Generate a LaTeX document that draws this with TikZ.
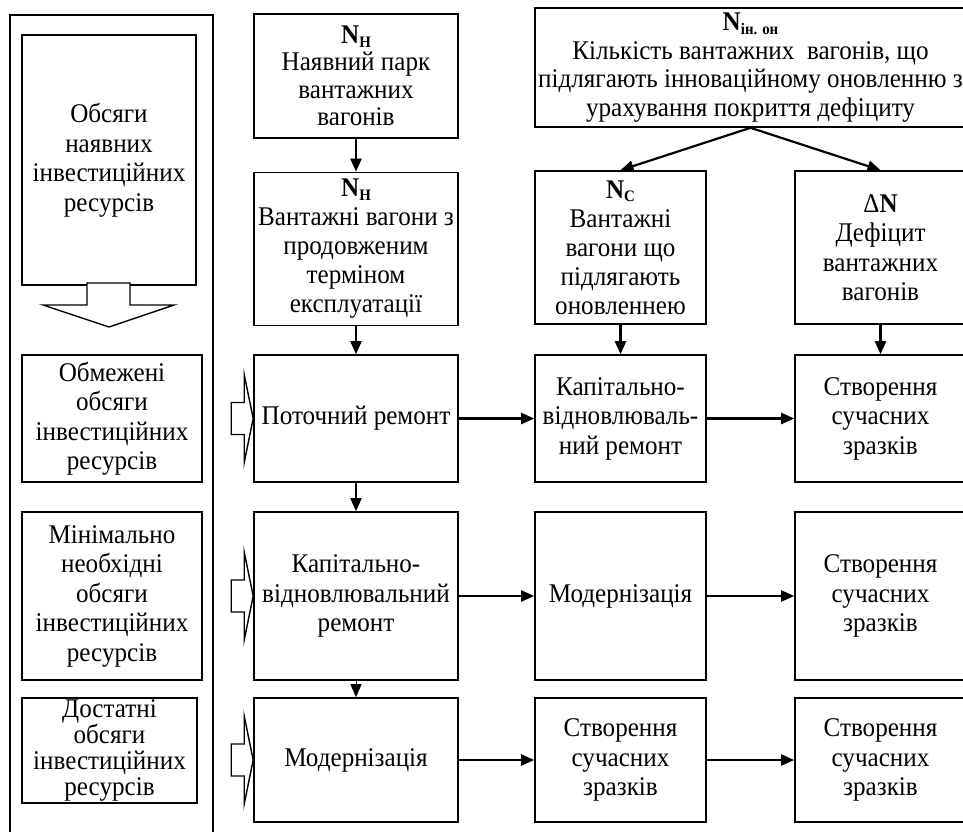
\documentclass[tikz,border=0pt]{standalone}
\usepackage{fontspec}
\setmainfont{Liberation Serif}[FakeStretch=0.93]
\usetikzlibrary{arrows.meta,calc}
\newcommand\sbsc[1]{\raisebox{-0.3ex}{\fontsize{16}{16}\selectfont\bfseries #1}}
\tikzset{
  box/.style={draw, line width=1.6pt, align=center, inner sep=1pt,
    font=\fontsize{27}{29.5}\selectfont, fill=white},
  arr/.style={line width=2.2pt, -{Triangle[length=13pt,width=11pt]}},
  tarr/.style={line width=0.9pt, -{Triangle[length=13pt,width=11pt]}},
  blk/.style={line width=1.4pt, fill=white, line join=miter}
}
\begin{document}
\begin{tikzpicture}[x=1pt,y=-1pt]
\useasboundingbox (0,0) rectangle (963,831);
\clip (0,0) rectangle (963,831);
\fill[white] (0,0) rectangle (963,831);
% left panel
\draw[line width=1.6pt] (10,845) -- (10,15) -- (213,15) -- (213,845);
\node[box, minimum width=174pt, minimum height=250pt] (L0) at (109,160) {Обсяги\\наявних\\інвестиційних\\ресурсів};
\draw[blk] (87,283) -- (130,283) -- (130,305) -- (174,305) -- (109,327) -- (43,305) -- (87,305) -- cycle;
\node[box, minimum width=180pt, minimum height=127pt] (L1) at (112,418.5) {Обмежені\\обсяги\\інвестиційних\\ресурсів};
\node[box, minimum width=180pt, minimum height=168pt] (L2) at (112,596) {Мінімально\\необхідні\\обсяги\\інвестиційних\\ресурсів};
\node[box, minimum width=175pt, minimum height=105pt, inner sep=0pt, font=\fontsize{27}{26}\selectfont] (L3) at (109.5,750.5) {Достатні\\обсяги\\інвестиційних\\ресурсів};
% middle column
\node[box, minimum width=204pt, minimum height=124pt, font=\fontsize{27}{27.5}\selectfont] (M0) at (356,76) {\textbf{N}\sbsc{Н}\\Наявний парк\\вантажних\\вагонів};
\node[box, minimum width=204pt, minimum height=153pt, font=\fontsize{27}{29}\selectfont] (M1) at (356,249) {\textbf{N}\sbsc{Н}\\Вантажні вагони з\\продовженим\\терміном\\експлуатації};
\node[box, minimum width=204pt, minimum height=127pt] (M2) at (356,418.5) {Поточний ремонт};
\node[box, minimum width=204pt, minimum height=168pt] (M3) at (356,596) {Капітально-\\відновлювальний\\ремонт};
\node[box, minimum width=204pt, minimum height=124pt] (M4) at (356,760) {Модернізація};
% third column
\node[box, minimum width=431pt, minimum height=119pt, font=\fontsize{27}{28.5}\selectfont] (T) at (750.5,67.5) {\textbf{N}\sbsc{ін. он}\\Кількість вантажних\ \ вагонів, що\\підлягають інноваційному оновленню з\\урахування покриття дефіциту};
\node[box, minimum width=171pt, minimum height=153pt, font=\fontsize{27}{29}\selectfont] (C0) at (620.5,247.5) {\textbf{N}\sbsc{С}\\Вантажні\\вагони що\\підлягають\\оновленнею};
\node[box, minimum width=171pt, minimum height=127pt] (C1) at (620.5,418.5) {Капітально-\\відновлюваль-\\ний ремонт};
\node[box, minimum width=171pt, minimum height=168pt] (C2) at (620.5,596) {Модернізація};
\node[box, minimum width=171pt, minimum height=124pt] (C3) at (620.5,760) {Створення\\сучасних\\зразків};
% fourth column
\node[box, minimum width=171pt, minimum height=153pt] (D0) at (880.5,247.5) {Δ\textbf{N}\\Дефіцит\\вантажних\\вагонів};
\node[box, minimum width=171pt, minimum height=127pt] (D1) at (880.5,418.5) {Створення\\сучасних\\зразків};
\node[box, minimum width=171pt, minimum height=168pt] (D2) at (880.5,596) {Створення\\сучасних\\зразків};
\node[box, minimum width=171pt, minimum height=124pt] (D3) at (880.5,760) {Створення\\сучасних\\зразків};
% block arrows into middle column
\foreach \n in {M2,M3,M4}{
  \draw[blk] ($(\n.west)+(-22,-16)$) -- ($(\n.west)+(-9,-16)$) -- ($(\n.west)+(-9,-44)$) -- (\n.west) -- ($(\n.west)+(-9,44)$) -- ($(\n.west)+(-9,16)$) -- ($(\n.west)+(-22,16)$) -- cycle;
}
% connectors
\draw[arr] (M0) -- (M1);
\draw[arr] (M1) -- (M2);
\draw[arr] (M2) -- (M3);
\draw[tarr] (M3) -- (M4);
\draw[arr] (T.south) -- (C0.north);
\draw[arr] (T.south) -- (D0.north);
\draw[arr] (C0) -- (C1);
\draw[arr] (D0) -- (D1);
\draw[arr] (M2) -- (C1);
\draw[arr] (C1) -- (D1);
\draw[arr] (M3) -- (C2);
\draw[arr] (C2) -- (D2);
\draw[arr] (M4) -- (C3);
\draw[arr] (C3) -- (D3);
\end{tikzpicture}
\end{document}
